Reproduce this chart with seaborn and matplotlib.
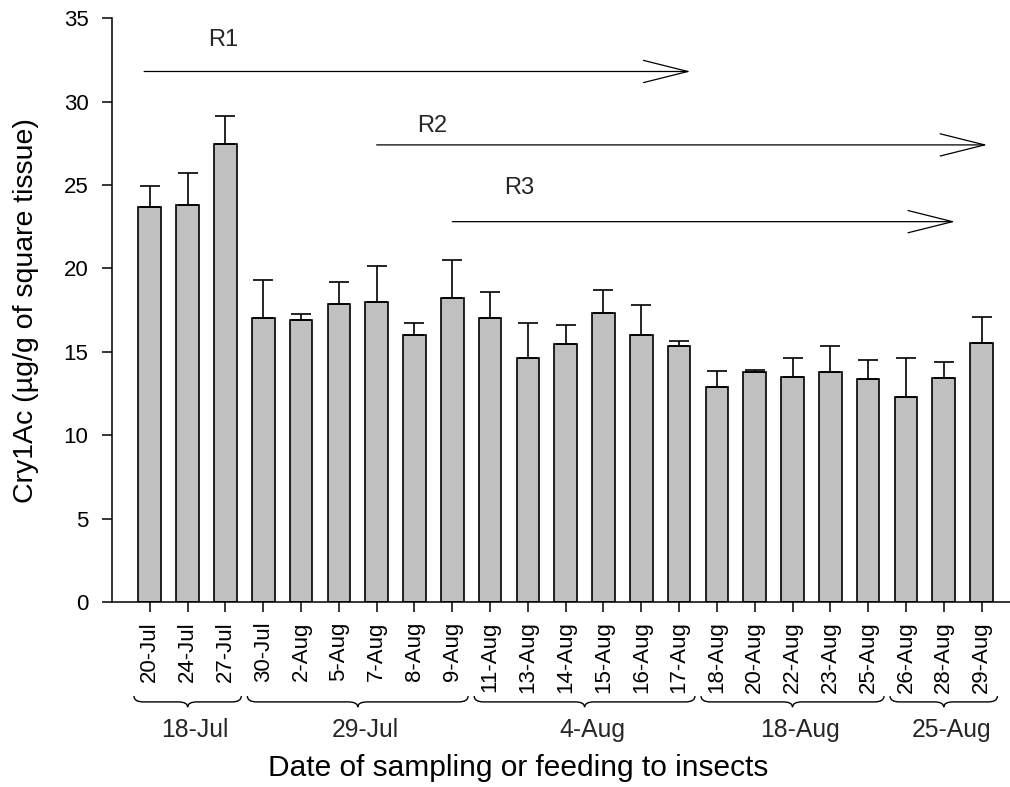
import numpy as np
import pandas as pd
import matplotlib
matplotlib.use("Agg")
import matplotlib.pyplot as plt
from matplotlib.path import Path
from matplotlib.patches import PathPatch
import seaborn as sns

# sampling dates (x categories)
dates = ["20-Jul", "24-Jul", "27-Jul", "30-Jul", "2-Aug", "5-Aug", "7-Aug", "8-Aug",
         "9-Aug", "11-Aug", "13-Aug", "14-Aug", "15-Aug", "16-Aug", "17-Aug", "18-Aug",
         "20-Aug", "22-Aug", "23-Aug", "25-Aug", "26-Aug", "28-Aug", "29-Aug"]

# Cry1Ac means and upper error (ug/g)
cry1ac = [23.66, 23.80, 27.48, 17.05, 16.89, 17.87, 18.00, 16.03, 18.23, 17.05, 14.65, 15.49,
          17.33, 16.03, 15.33, 12.87, 13.77, 13.47, 13.79, 13.35, 12.31, 13.45, 15.53]
err = [1.25, 1.92, 1.68, 2.24, 0.38, 1.31, 2.14, 0.68, 2.30, 1.54, 2.08, 1.12,
       1.38, 1.78, 0.32, 0.98, 0.14, 1.14, 1.58, 1.18, 2.34, 0.96, 1.56]

# planting date groups under the axis
group_labels = ["18-Jul", "29-Jul", "4-Aug", "18-Aug", "25-Aug"]
group_sizes = [3, 6, 6, 5, 3]

# release periods (label, start, end, level)
periods = ["R1", "R2", "R3"]
period_start = [-0.15, 6.0, 8.0]
period_end = [14.3, 22.15, 21.3]
period_level = [31.8, 27.4, 22.8]

df = pd.DataFrame({"date": dates, "cry1ac": cry1ac})

sns.set_theme(style="ticks")
plt.rcParams["font.family"] = ["Liberation Sans", "DejaVu Sans"]

fig = plt.figure(figsize=(10.1, 7.87), dpi=100)
ax = fig.add_axes([0.1109, 0.235, 0.889, 0.742])

sns.barplot(data=df, x="date", y="cry1ac", color="#c0c0c0", saturation=1,
            edgecolor="black", linewidth=1.2, width=0.6, errorbar=None, ax=ax)
x = np.arange(len(dates))
ax.errorbar(x, cry1ac, yerr=[np.zeros(len(err)), err], fmt="none", ecolor="black",
            elinewidth=1.2, capsize=7.5, capthick=1.2, zorder=3)

ax.set_xlim(-1.0, 22.75)
ax.set_ylim(0, 35)
ax.set_yticks(range(0, 36, 5))
sns.despine(ax=ax)
for s in ["left", "bottom"]:
    ax.spines[s].set_linewidth(1.1)
    ax.spines[s].set_color("black")
ax.tick_params(axis="both", direction="out", length=7, width=1.1, color="black",
               labelsize=16, labelcolor="black")
ax.tick_params(axis="y", pad=10)
ax.tick_params(axis="x", pad=7, labelrotation=90)

ax.set_xlabel("Date of sampling or feeding to insects", fontsize=21.5, color="black")
ax.set_ylabel("Cry1Ac (µg/g of square tissue)", fontsize=20.5, color="black")
ax.xaxis.set_label_coords(0.4525, -0.298)
ax.xaxis.label.set_verticalalignment("baseline")
ax.yaxis.set_label_coords(-0.088, 0.5)
ax.yaxis.label.set_verticalalignment("baseline")

# arrows for release periods
for lab, x0, x1, lvl in zip(periods, period_start, period_end, period_level):
    ax.annotate("", xy=(x1, lvl), xytext=(x0, lvl),
                arrowprops=dict(arrowstyle="->,head_length=3.2,head_width=0.8",
                                mutation_scale=10, lw=0.9, color="black",
                                shrinkA=0, shrinkB=0))
label_pos = [(1.95, 33.3), (7.46, 28.2), (9.78, 24.46)]
for lab, (tx, ty) in zip(periods, label_pos):
    ax.text(tx, ty, lab, ha="center", va="baseline", fontsize=17)

# curly braces grouping the dates by planting date
trans = ax.get_xaxis_transform()
yt, ym, yb = -0.161, -0.171, -0.180
d = 0.25
start = 0
for lab, n in zip(group_labels, group_sizes):
    first, last = start, start + n - 1
    x0, x1 = first - 0.42, last + 0.42
    xc = (first + last) / 2
    verts = [(x0, yt), (x0, ym), (x0 + d, ym),
             (xc - d, ym), (xc, ym), (xc, yb),
             (xc, ym), (xc + d, ym),
             (x1 - d, ym), (x1, ym), (x1, yt)]
    codes = [Path.MOVETO, Path.CURVE3, Path.CURVE3,
             Path.LINETO, Path.CURVE3, Path.CURVE3,
             Path.CURVE3, Path.CURVE3,
             Path.LINETO, Path.CURVE3, Path.CURVE3]
    ax.add_patch(PathPatch(Path(verts, codes), transform=trans, fill=False,
                           lw=1.0, edgecolor="black", clip_on=False))
    ax.text(xc + 0.2, -0.231, lab, transform=trans, ha="center", va="baseline",
            fontsize=17.8, clip_on=False)
    start += n

fig.savefig("out.png", dpi=100, facecolor="white")
